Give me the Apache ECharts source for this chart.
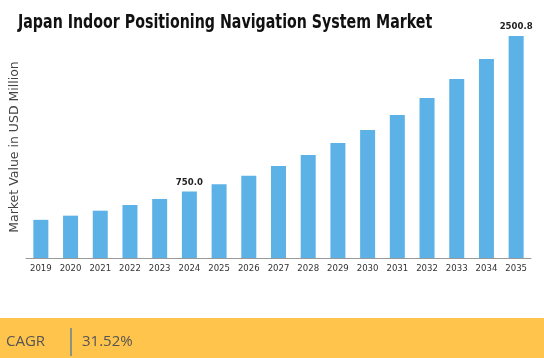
<!DOCTYPE html>
<html><head><meta charset="utf-8">
<script src="https://cdn.jsdelivr.net/npm/echarts@6/dist/echarts.min.js"></script>
<style>html,body{margin:0;padding:0;background:#fff}#c{width:544px;height:358px}</style>
</head><body><div id="c"></div>
<script>
const categories = ['2019','2020','2021','2022','2023','2024','2025','2026','2027','2028','2029','2030','2031','2032','2033','2034','2035'];
const values = [430, 477, 533, 597, 665, 750.0, 830, 927, 1036, 1160, 1295, 1441, 1610, 1802, 2016, 2241, 2500.8];
const labeledYears = ['2024','2035'];
const titleText = 'Japan Indoor Positioning Navigation System Market';
const yAxisName = 'Market Value in USD Million';
const cagrLabel = 'CAGR';
const cagrValue = '31.52%';

const chart = echarts.init(document.getElementById('c'));
chart.setOption({
  animation: false,
  grid: {left: 22, right: 13, top: 36, bottom: 100},
  xAxis: {
    type: 'category', data: categories,
    axisLine: {lineStyle: {color: '#999'}},
    axisTick: {show: false},
    axisLabel: {fontFamily: 'DejaVu Sans Condensed', fontSize: 9.5, color: '#333', margin: 6}
  },
  yAxis: {
    type: 'value', min: 0, max: 2500.8,
    name: yAxisName, nameLocation: 'middle', nameGap: 5, nameRotate: 90,
    nameTextStyle: {fontFamily: 'DejaVu Sans', fontSize: 12.5, color: '#444'},
    axisLine: {show: false}, axisTick: {show: false}, axisLabel: {show: false}, splitLine: {show: false}
  },
  series: [{
    type: 'bar', data: values.map((v, i) => ({
      value: v,
      label: {show: labeledYears.includes(categories[i])}
    })),
    barWidth: 15,
    itemStyle: {color: '#5cb2e6'},
    label: {
      position: 'top', distance: 4,
      formatter: p => p.value.toFixed(1),
      fontFamily: 'DejaVu Sans Condensed', fontWeight: 'bold', fontSize: 9.5, color: '#222'
    }
  }],
  graphic: [
    {type: 'text', x: 18, y: 13, scaleX: 0.79, style: {text: titleText, fill: '#111', font: 'bold 20px "DejaVu Sans Condensed"'}},
    {type: 'rect', shape: {x: 0, y: 318, width: 544, height: 40}, style: {fill: '#fec44c'}},
    {type: 'text', style: {x: 6, y: 342, text: cagrLabel, fill: '#555', font: '15px "Open Sans"', textVerticalAlign: 'middle'}},
    {type: 'line', shape: {x1: 71, y1: 328, x2: 71, y2: 356}, style: {stroke: '#1a5fb4', lineWidth: 1}},
    {type: 'text', style: {x: 82, y: 342, text: cagrValue, fill: '#555', font: '15px "Open Sans"', textVerticalAlign: 'middle'}}
  ]
});
</script></body></html>
